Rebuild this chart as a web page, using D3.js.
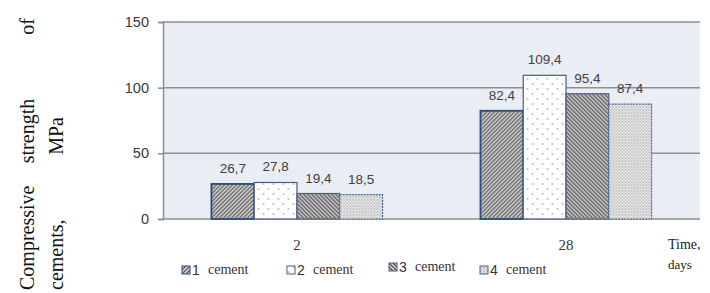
<!DOCTYPE html>
<meta charset="utf-8">
<style>
  body { margin: 0; background: #fff; }
  svg { display: block; }
</style>
<svg width="710" height="293"></svg>
<script src="https://cdnjs.cloudflare.com/ajax/libs/d3/7.8.5/d3.min.js"></script>
<script>

// chart values
var days = ["2", "28"];
var cements = ["1", "2", "3", "4"];
var strength = [
    [26.7, 27.8, 19.4, 18.5],   // 2 days
    [82.4, 109.4, 95.4, 87.4]   // 28 days
];
var yTicks = [0, 50, 100, 150];

var svg = d3.select("svg");

var margin = { left: 163, right: 10, top: 22, bottom: 74 },
    width = 710 - margin.left - margin.right,
    height = 293 - margin.top - margin.bottom;

// patterns for the four cements
var defs = svg.append("defs");

var p1 = defs.append("pattern").attr("id", "pat1")
    .attr("patternUnits", "userSpaceOnUse").attr("width", 4).attr("height", 4);
p1.append("rect").attr("width", 4).attr("height", 4).attr("fill", "#e0e0e0");
p1.append("path").attr("d", "M-1,1 l2,-2 M0,4 l4,-4 M3,5 l2,-2")
    .attr("stroke", "#5e5e5e").attr("stroke-width", 1.4);

var p2 = defs.append("pattern").attr("id", "pat2")
    .attr("patternUnits", "userSpaceOnUse").attr("width", 10).attr("height", 10);
p2.append("rect").attr("width", 10).attr("height", 10).attr("fill", "#ffffff");
p2.append("circle").attr("cx", 2).attr("cy", 2).attr("r", 0.8).attr("fill", "#8a8a8a");
p2.append("circle").attr("cx", 7).attr("cy", 7).attr("r", 0.8).attr("fill", "#8a8a8a");

var p3 = defs.append("pattern").attr("id", "pat3")
    .attr("patternUnits", "userSpaceOnUse").attr("width", 4).attr("height", 4);
p3.append("rect").attr("width", 4).attr("height", 4).attr("fill", "#d8d8d8");
p3.append("path").attr("d", "M-1,3 l2,2 M0,0 l4,4 M3,-1 l2,2")
    .attr("stroke", "#555").attr("stroke-width", 1.4);

var p4 = defs.append("pattern").attr("id", "pat4")
    .attr("patternUnits", "userSpaceOnUse").attr("width", 3).attr("height", 3);
p4.append("rect").attr("width", 3).attr("height", 3).attr("fill", "#f2f2f2");
p4.append("circle").attr("cx", 1).attr("cy", 1).attr("r", 0.8).attr("fill", "#888");
p4.append("circle").attr("cx", 2.5).attr("cy", 2.5).attr("r", 0.55).attr("fill", "#aaa");

var fills = ["url(#pat1)", "url(#pat2)", "url(#pat3)", "url(#pat4)"];
var strokes = ["#2d4a78", "#3f5f92", "#4b5d7e", "#44659a"];
var strokeW = [1.8, 1.2, 1.2, 1.2];
var dashes = [null, null, null, "2,1"];

var g = svg.append("g")
    .attr("transform", "translate(" + margin.left + "," + margin.top + ")");

var x0 = d3.scaleBand()
    .domain(days)
    .range([0, width])
    .paddingInner(0.364)
    .paddingOuter(0.18);

var x1 = d3.scaleBand()
    .domain(cements)
    .range([0, x0.bandwidth()]);

var y = d3.scaleLinear()
    .domain([0, 150])
    .range([height, 0]);

// plot background
g.append("rect")
    .attr("width", width)
    .attr("height", height)
    .attr("fill", "#e9edf4");

// grid lines
g.append("g")
    .selectAll("line")
    .data(yTicks)
    .enter().append("line")
    .attr("x1", 0)
    .attr("x2", width)
    .attr("y1", function(d) { return y(d); })
    .attr("y2", function(d) { return y(d); })
    .attr("stroke", "#8f8f8f")
    .attr("stroke-width", 1.5);

// y axis
var yAxis = g.append("g")
    .call(d3.axisLeft(y).tickValues(yTicks).tickSize(5).tickPadding(9));
yAxis.select(".domain").attr("stroke", "#8f8f8f").attr("stroke-width", 1.5);
yAxis.selectAll(".tick line").attr("stroke", "#8f8f8f").attr("stroke-width", 1.5);
yAxis.selectAll("text")
    .attr("fill", "#383838")
    .style("font-family", "'Liberation Sans', Arial, sans-serif")
    .style("font-size", "14.5px");

// x axis labels
var serif = "'Liberation Serif', 'Times New Roman', serif";
var xAxis = g.append("g")
    .attr("transform", "translate(0," + height + ")")
    .call(d3.axisBottom(x0).tickSize(0).tickPadding(20));
xAxis.select(".domain").remove();
xAxis.selectAll("text")
    .attr("fill", "#333")
    .style("font-family", serif)
    .style("font-size", "15px");

// bars
var groups = g.append("g")
    .selectAll("g")
    .data(strength)
    .enter().append("g")
    .attr("transform", function(d, i) { return "translate(" + x0(days[i]) + ",0)"; });

groups.selectAll("rect")
    .data(function(d) { return d; })
    .enter().append("rect")
    .attr("x", function(d, i) { return x1(cements[i]); })
    .attr("y", function(d) { return y(d); })
    .attr("width", x1.bandwidth())
    .attr("height", function(d) { return height - y(d); })
    .attr("fill", function(d, i) { return fills[i]; })
    .attr("stroke", function(d, i) { return strokes[i]; })
    .attr("stroke-width", function(d, i) { return strokeW[i]; })
    .attr("stroke-dasharray", function(d, i) { return dashes[i]; });

groups.selectAll("text")
    .data(function(d) { return d; })
    .enter().append("text")
    .attr("x", function(d, i) { return x1(cements[i]) + x1.bandwidth() / 2; })
    .attr("y", function(d) { return y(d) - 11; })
    .attr("text-anchor", "middle")
    .attr("fill", "#404040")
    .style("font-family", "'Liberation Sans', Arial, sans-serif")
    .style("font-size", "13.5px")
    .text(function(d) { return String(d).replace(".", ","); });

// x axis title
svg.append("text").attr("x", 668).attr("y", 249)
    .style("font-family", serif).style("font-size", "14px").attr("fill", "#1a1a1a")
    .text("Time,");
svg.append("text").attr("x", 668).attr("y", 269)
    .style("font-family", serif).style("font-size", "13px").attr("fill", "#1a1a1a")
    .text("days");

// legend
var legendX = [182, 287, 389, 480];
var legend = svg.append("g")
    .selectAll("g")
    .data(cements)
    .enter().append("g")
    .attr("transform", function(d, i) { return "translate(" + legendX[i] + "," + (i == 2 ? 267 : 270) + ")"; });

legend.append("rect")
    .attr("x", 0).attr("y", -4)
    .attr("width", 8).attr("height", 8)
    .attr("fill", function(d, i) { return fills[i]; })
    .attr("stroke", function(d, i) { return strokes[i]; })
    .attr("stroke-width", 1);

legend.append("text")
    .attr("x", 10).attr("y", 5)
    .attr("fill", "#333")
    .style("font-family", "'Liberation Sans', Arial, sans-serif")
    .style("font-size", "14px")
    .text(function(d) { return d; });

legend.append("text")
    .attr("x", 26).attr("y", 4)
    .attr("fill", "#333")
    .style("font-family", serif)
    .style("font-size", "14px")
    .text("cement");

// y axis title, two rotated lines spread over the height
var ytitle = svg.append("g").attr("transform", "rotate(-90)")
    .style("font-family", serif).style("font-size", "20px").attr("fill", "#111");
ytitle.append("text").attr("x", -290).attr("y", 34).text("Compressive");
ytitle.append("text").attr("x", -131).attr("y", 34).attr("text-anchor", "middle").text("strength");
ytitle.append("text").attr("x", -18).attr("y", 34).attr("text-anchor", "end").text("of");
ytitle.append("text").attr("x", -290).attr("y", 63).text("cements,");
ytitle.append("text").attr("x", -117).attr("y", 63).attr("text-anchor", "end").text("MPa");

</script>
